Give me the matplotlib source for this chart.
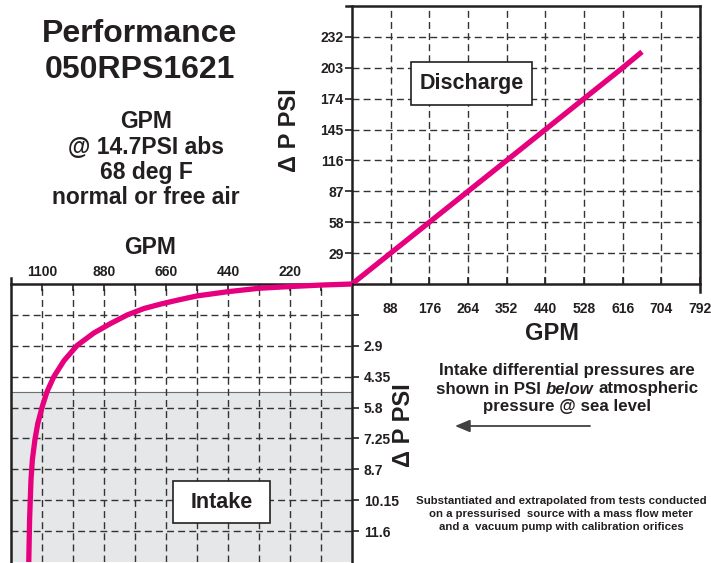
import matplotlib
matplotlib.use('Agg')
import matplotlib.pyplot as plt
from matplotlib.offsetbox import TextArea, HPacker, AnnotationBbox
from matplotlib.patches import Rectangle

plt.rcParams['font.family'] = ['Liberation Sans', 'DejaVu Sans']
plt.rcParams['font.weight'] = 'bold'

# ---- data ----
# discharge side: GPM vs pressure above atmospheric
discharge_gpm = [0, 88, 176, 264, 352, 440, 528, 616, 660]
discharge_psi = [0, 29, 58, 87, 116, 145, 174, 203, 218]

# intake side: GPM vs pressure below atmospheric
intake_gpm = [0, 110, 220, 330, 440, 550, 620, 678, 738, 797, 856, 916, 975, 1022,
              1058, 1082, 1099, 1115, 1125, 1134, 1139, 1144, 1147]
intake_psi = [0, 0.05, 0.12, 0.2, 0.36, 0.56, 0.76, 0.94, 1.15, 1.45, 1.85, 2.3, 2.88, 3.6,
              4.35, 5.05, 5.75, 6.55, 7.3, 8.23, 9.17, 11.04, 13.05]

dis_xticks = [88, 176, 264, 352, 440, 528, 616, 704, 792]
dis_yticks = [29, 58, 87, 116, 145, 174, 203, 232]
int_xticks = [220, 440, 660, 880, 1100]
int_xminor = [110, 330, 550, 770, 990]
int_yticks = [1.45, 2.9, 4.35, 5.8, 7.25, 8.7, 10.15, 11.6]
int_ylabels = ['', '2.9', '4.35', '5.8', '7.25', '8.7', '10.15', '11.6']
vacuum_shade = 5.05

dark = '#231f20'
pink = '#e6007e'
W, H = 711, 563

def fx(px):
    return px / W

def fy(py):
    return 1 - py / H

fig = plt.figure(figsize=(W / 100, H / 100), dpi=100)

# ---- discharge axes (top right) ----
ax1 = fig.add_axes([fx(352), fy(284), 348 / W, 278 / H])
ax1.plot(discharge_gpm, discharge_psi, color=pink, lw=3.8, solid_capstyle='butt', zorder=5)
ax1.set_xlim(0, 792)
ax1.set_ylim(0, 261)
ax1.set_xticks(dis_xticks)
ax1.set_yticks(dis_yticks)
ax1.grid(True, color='#333333', lw=1.0, linestyle=(0, (5, 3)))
ax1.set_axisbelow(True)
ax1.tick_params(axis='x', direction='in', length=5, width=1.2, pad=13, labelsize=10, colors=dark)
ax1.tick_params(axis='y', direction='out', length=5, width=1.2, pad=1, labelsize=10, colors=dark)
for s in ax1.spines.values():
    s.set_linewidth(1.8)
    s.set_color(dark)
ax1.spines['right'].set_bounds(-7.5, 261)
ax1.spines['top'].set_bounds(-14, 792)
for lab in ax1.get_xticklabels() + ax1.get_yticklabels():
    lab.set_fontweight('bold')

ax1.add_patch(Rectangle((0.1695, 0.644), 0.3475, 0.155, transform=ax1.transAxes,
                        facecolor='white', edgecolor=dark, lw=1.2, zorder=6))
ax1.text(0.343, 0.72, 'Discharge', transform=ax1.transAxes, ha='center', va='center',
         fontsize=15.5, fontweight='bold', color=dark, zorder=7)

# ---- intake axes (bottom left) ----
ax2 = fig.add_axes([fx(11), fy(562), 341 / W, 278 / H])
ax2.axhspan(vacuum_shade, 13.05, color='#e6e7e8', zorder=0)
ax2.axhline(vacuum_shade, color='#6d6e71', lw=0.8, zorder=0.2)
ax2.plot(intake_gpm, intake_psi, color=pink, lw=3.8, solid_capstyle='butt',
         solid_joinstyle='round', zorder=5, clip_on=False)
ax2.set_xlim(1210, 0)
ax2.set_ylim(13.05, 0)
ax2.xaxis.tick_top()
ax2.yaxis.tick_right()
ax2.set_xticks(int_xticks)
ax2.set_xticks(int_xminor, minor=True)
ax2.set_yticks(int_yticks)
ax2.set_yticklabels(int_ylabels)
ax2.grid(True, which='both', color='#333333', lw=1.0, linestyle=(0, (5, 3)))
ax2.set_axisbelow(True)
ax2.tick_params(axis='x', which='both', direction='in', length=5, width=1.2, pad=3.5, labelsize=10, colors=dark)
ax2.tick_params(axis='y', direction='out', length=5, width=1.2, pad=3.5, labelsize=10, colors=dark)
for s in ax2.spines.values():
    s.set_linewidth(1.8)
    s.set_color(dark)
ax2.spines['bottom'].set_visible(False)
ax2.spines['left'].set_bounds(13.05, -0.28)
for lab in ax2.get_xticklabels() + ax2.get_yticklabels():
    lab.set_fontweight('bold')

ax2.add_patch(Rectangle((0.475, 0.14), 0.2845, 0.151, transform=ax2.transAxes,
                        facecolor='white', edgecolor=dark, lw=1.2, zorder=6))
ax2.text(0.617, 0.213, 'Intake', transform=ax2.transAxes, ha='center', va='center',
         fontsize=15.5, fontweight='bold', color=dark, zorder=7)

# ---- titles and labels ----
fig.text(fx(140), fy(34), 'Performance', ha='center', va='center', fontsize=23, fontweight='bold', color=dark)
fig.text(fx(140), fy(70), '050RPS1621', ha='center', va='center', fontsize=23, fontweight='bold', color=dark)
for txt, yy in [('GPM', 122), ('@ 14.7PSI abs', 147), ('68 deg F', 172), ('normal or free air', 197)]:
    fig.text(fx(146), fy(yy), txt, ha='center', va='center', fontsize=16.5, fontweight='bold', color=dark)
fig.text(fx(150), fy(247), 'GPM', ha='center', va='center', fontsize=16.5, fontweight='bold', color=dark)
fig.text(fx(552), fy(333), 'GPM', ha='center', va='center', fontsize=17, fontweight='bold', color=dark)
fig.text(fx(289), fy(130), 'Δ P PSI', ha='center', va='center', rotation=90, fontsize=17, fontweight='bold', color=dark)
fig.text(fx(404), fy(425), 'Δ P PSI', ha='center', va='center', rotation=90, fontsize=17, fontweight='bold', color=dark)

# intake note
note_kw = dict(fontsize=12.2, fontweight='bold', color=dark)
fig.text(fx(567), fy(371), 'Intake differential pressures are', ha='center', va='center', **note_kw)
parts = [TextArea('shown in PSI', textprops=note_kw),
         TextArea('below', textprops=dict(note_kw, style='italic')),
         TextArea('atmospheric', textprops=note_kw)]
line2 = HPacker(children=parts, sep=3.5, pad=0, align='baseline')
fig.add_artist(AnnotationBbox(line2, (fx(567), fy(389)), xycoords='figure fraction',
                              frameon=False, box_alignment=(0.5, 0.5), pad=0))
fig.text(fx(567), fy(407), 'pressure @ sea level', ha='center', va='center', **note_kw)

ax1.annotate('', xy=(fx(455), fy(426)), xycoords='figure fraction',
             xytext=(fx(590), fy(426)), textcoords='figure fraction',
             arrowprops=dict(arrowstyle='-|>,head_length=0.6,head_width=0.25', mutation_scale=15,
                             color='#414042', lw=1.3, shrinkA=0, shrinkB=0))

small_kw = dict(fontsize=8.2, fontweight='bold', color=dark, ha='center', va='center')
fig.text(fx(561), fy(501), 'Substantiated and extrapolated from tests conducted', **small_kw)
fig.text(fx(561), fy(514), 'on a pressurised  source with a mass flow meter', **small_kw)
fig.text(fx(561), fy(527), 'and a  vacuum pump with calibration orifices', **small_kw)

fig.savefig('out.png', dpi=100)
